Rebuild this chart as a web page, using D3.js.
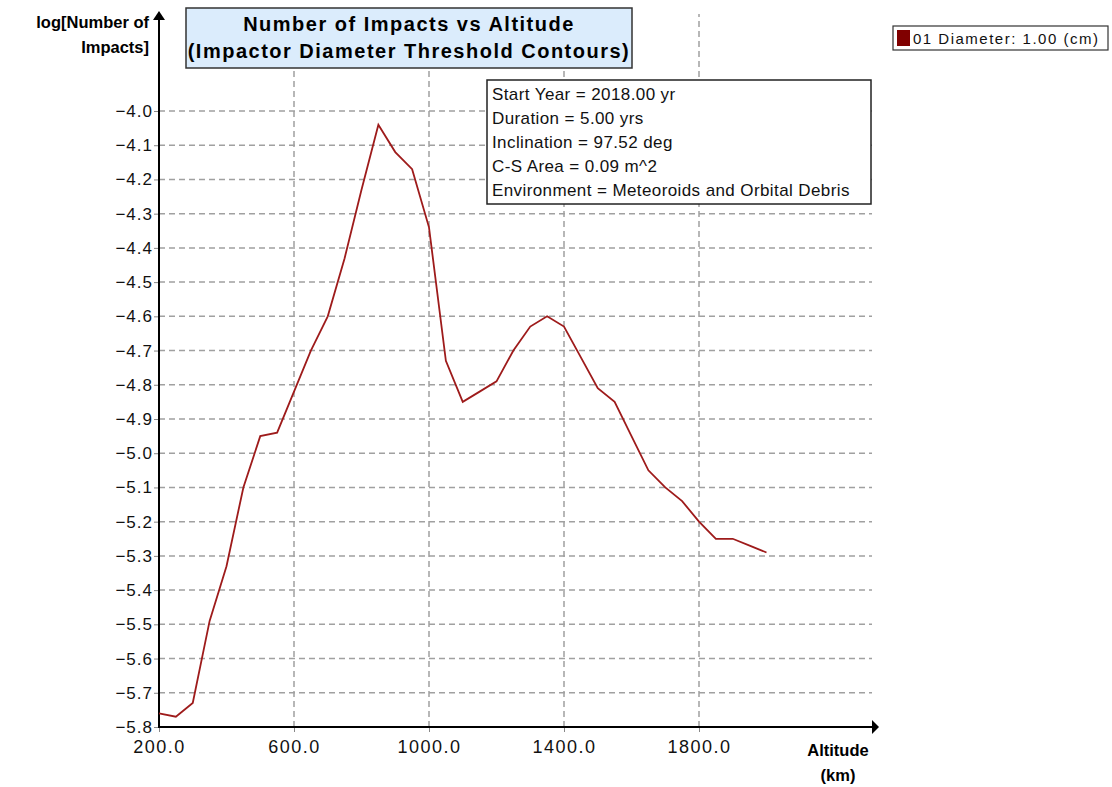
<!DOCTYPE html>
<html>
<head>
<meta charset="utf-8">
<script src="https://cdn.jsdelivr.net/npm/d3@7"></script>
<style>
  body { margin: 0; background: #fff; }
  svg { font-family: Arial, "Liberation Sans", sans-serif; }
</style>
</head>
<body>
<div id="chart"></div>
<script>
// altitude (km) and log10 impacts
const altitudes = [200, 250, 300, 350, 400, 450, 500, 550, 600, 650, 700, 750, 800, 850, 900, 950,
  1000, 1050, 1100, 1150, 1200, 1250, 1300, 1350, 1400, 1450, 1500, 1550, 1600, 1650, 1700, 1750,
  1800, 1850, 1900, 1950, 2000];
const logImpacts = [-5.76, -5.77, -5.73, -5.49, -5.33, -5.10, -4.95, -4.94, -4.82, -4.70, -4.60, -4.43, -4.23, -4.04, -4.12, -4.17,
  -4.34, -4.73, -4.85, -4.82, -4.79, -4.70, -4.63, -4.60, -4.63, -4.72, -4.81, -4.85, -4.95, -5.05, -5.10, -5.14,
  -5.20, -5.25, -5.25, -5.27, -5.29];
const xTicks = [200, 600, 1000, 1400, 1800];
const yTicks = d3.range(-58, -39).map(d => d / 10);
const infoLines = [
  "Start Year = 2018.00 yr",
  "Duration = 5.00 yrs",
  "Inclination = 97.52 deg",
  "C-S Area = 0.09 m^2",
  "Environment = Meteoroids and Orbital Debris"
];
const legendLabel = "01 Diameter: 1.00 (cm)";

const width = 1112, height = 787;
const svg = d3.select('#chart').append('svg')
  .attr('width', width).attr('height', height);

const x = d3.scaleLinear().domain([200, 1800]).range([159, 699]);
const y = d3.scaleLinear().domain([-5.8, -4.0]).range([727, 111]);
const xEnd = 872, yTop = 14;

// grid
const grid = svg.append('g').attr('stroke', '#a0a0a0').attr('stroke-dasharray', '6,4').attr('stroke-width', 1.5);
grid.selectAll('line.h').data(yTicks.slice(1)).join('line')
  .attr('x1', x(200)).attr('x2', xEnd)
  .attr('y1', d => y(d)).attr('y2', d => y(d));
grid.selectAll('line.v').data(xTicks.slice(1)).join('line')
  .attr('x1', d => x(d)).attr('x2', d => x(d))
  .attr('y1', y(-5.8)).attr('y2', yTop);

// axes
const yAxis = svg.append('g').attr('transform', `translate(${x(200)},0)`)
  .call(d3.axisLeft(y).tickValues(yTicks).tickFormat(d3.format('.1f')).tickSize(5).tickPadding(1));
yAxis.select('.domain').remove();
yAxis.selectAll('text').attr('font-size', 17).attr('letter-spacing', 1).attr('fill', '#111');
yAxis.selectAll('line').attr('stroke', '#888');

const xAxis = svg.append('g').attr('transform', `translate(0,${y(-5.8)})`)
  .call(d3.axisBottom(x).tickValues(xTicks).tickFormat(d3.format('.1f')).tickSize(5).tickPadding(8));
xAxis.select('.domain').remove();
xAxis.selectAll('text').attr('font-size', 18).attr('letter-spacing', 1.5).attr('fill', '#111');
xAxis.selectAll('line').attr('stroke', '#888');

svg.append('line').attr('x1', x(200)).attr('x2', xEnd)
  .attr('y1', y(-5.8)).attr('y2', y(-5.8)).attr('stroke', '#000').attr('stroke-width', 2);
svg.append('line').attr('x1', x(200)).attr('x2', x(200))
  .attr('y1', y(-5.8) + 1).attr('y2', yTop + 4).attr('stroke', '#000').attr('stroke-width', 2);
svg.append('path').attr('d', `M${xEnd},${y(-5.8) - 7}L${xEnd + 7},${y(-5.8)}L${xEnd},${y(-5.8) + 7}Z`).attr('fill', '#000');
svg.append('path').attr('d', `M${x(200) - 6},${yTop + 6}L${x(200)},${yTop - 3}L${x(200) + 6},${yTop + 6}Z`).attr('fill', '#000');

// axis titles
svg.append('text').attr('x', 149).attr('y', 28).attr('text-anchor', 'end')
  .attr('font-size', 16.5).attr('font-weight', 'bold').text('log[Number of');
svg.append('text').attr('x', 149).attr('y', 53).attr('text-anchor', 'end')
  .attr('font-size', 16.5).attr('font-weight', 'bold').text('Impacts]');
svg.append('text').attr('x', 838).attr('y', 756).attr('text-anchor', 'middle')
  .attr('font-size', 16.5).attr('font-weight', 'bold').text('Altitude');
svg.append('text').attr('x', 838).attr('y', 781).attr('text-anchor', 'middle')
  .attr('font-size', 16.5).attr('font-weight', 'bold').text('(km)');

// data line
const pts = altitudes.map((a, i) => [a, logImpacts[i]]);
svg.append('path').datum(pts)
  .attr('fill', 'none').attr('stroke', '#9e1b1b').attr('stroke-width', 1.8)
  .attr('d', d3.line().x(d => x(d[0])).y(d => y(d[1])));

// title box
svg.append('rect').attr('x', 186).attr('y', 8).attr('width', 446).attr('height', 60)
  .attr('fill', '#dbecfc').attr('stroke', '#333').attr('stroke-width', 1.5);
svg.append('text').attr('x', 409).attr('y', 31).attr('text-anchor', 'middle')
  .attr('font-size', 20).attr('font-weight', 'bold').attr('letter-spacing', 1.5).text('Number of Impacts vs Altitude');
svg.append('text').attr('x', 409).attr('y', 58).attr('text-anchor', 'middle')
  .attr('font-size', 20).attr('font-weight', 'bold').attr('letter-spacing', 1.5).text('(Impactor Diameter Threshold Contours)');

// info box
svg.append('rect').attr('x', 487).attr('y', 80).attr('width', 384).attr('height', 124)
  .attr('fill', '#fff').attr('stroke', '#222').attr('stroke-width', 1.5);
svg.append('g').selectAll('text').data(infoLines).join('text')
  .attr('x', 492).attr('y', (d, i) => 100 + i * 24)
  .attr('font-size', 17).attr('letter-spacing', 0.4).attr('fill', '#111').text(d => d);

// legend
svg.append('rect').attr('x', 893).attr('y', 26).attr('width', 215).attr('height', 24)
  .attr('fill', '#fff').attr('stroke', '#333').attr('stroke-width', 1.2);
svg.append('rect').attr('x', 897).attr('y', 30).attr('width', 13).attr('height', 16).attr('fill', '#800000');
svg.append('text').attr('x', 913).attr('y', 44).attr('font-size', 15).attr('letter-spacing', 1.5)
  .attr('fill', '#111').text(legendLabel);
</script>
</body>
</html>
